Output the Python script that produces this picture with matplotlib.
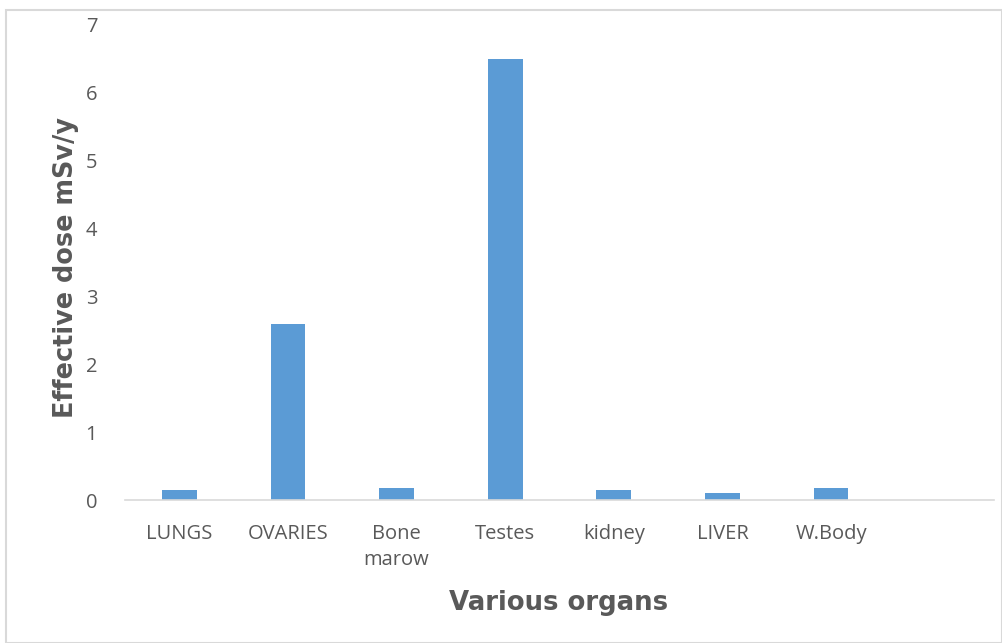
import matplotlib.pyplot as plt
from matplotlib.patches import Rectangle

# organs and effective dose (mSv/y)
organs = ["LUNGS", "OVARIES", "Bone\nmarow", "Testes", "kidney", "LIVER", "W.Body", ""]
dose = [0.15, 2.6, 0.17, 6.5, 0.15, 0.11, 0.17, 0]
yticks = [0, 1, 2, 3, 4, 5, 6, 7]

plt.rcParams['font.family'] = ['Open Sans', 'DejaVu Sans']
grey = '#595959'

fig = plt.figure(figsize=(10.03, 6.43), dpi=100)
ax = fig.add_axes([125 / 1003, 1 - 500 / 643, 869 / 1003, 475 / 643])

x = list(range(len(organs)))
ax.bar(x[:7], dose[:7], width=0.32, color='#5b9bd5')
ax.set_xlim(-0.5, len(organs) - 0.5)
ax.set_ylim(0, 7)
ax.set_yticks(yticks)
ax.set_xticks(x)
ax.set_xticklabels(organs, fontsize=14.5, color=grey, linespacing=1.45)
ax.tick_params(axis='both', length=0, labelsize=14.5, labelcolor=grey)
ax.tick_params(axis='x', pad=17)
ax.tick_params(axis='y', pad=20)

for s in ['top', 'right', 'left']:
    ax.spines[s].set_visible(False)
ax.spines['bottom'].set_color('#d9d9d9')
ax.spines['bottom'].set_linewidth(1.2)

fig.text(66 / 1003, 1 - 267 / 643, 'Effective dose mSv/y', rotation=90, ha='center', va='center',
         fontsize=18.4, fontweight='heavy', color=grey, family=['DejaVu Sans'])
fig.text(559 / 1003, 1 - 603 / 643, 'Various organs', ha='center', va='center',
         fontsize=18.7, fontweight='heavy', color=grey, family=['DejaVu Sans'])

# outer chart frame
fig.patches.append(Rectangle((6 / 1003, 0), 996 / 1003, 1 - 10 / 643, transform=fig.transFigure,
                             fill=False, edgecolor='#d9d9d9', linewidth=1.5))

fig.savefig('out.png', dpi=100)
